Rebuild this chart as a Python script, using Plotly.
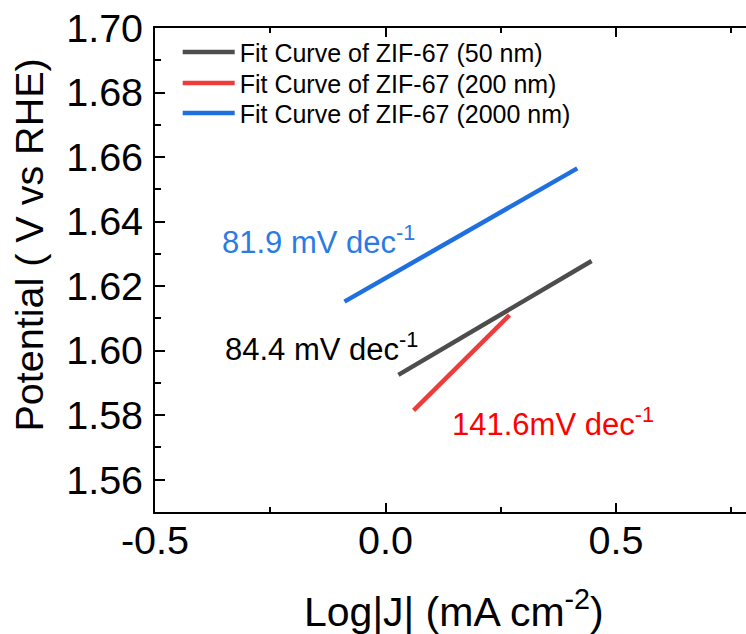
import plotly.graph_objects as go

# Tafel fit lines: log|J| (mA cm^-2) vs potential (V vs RHE)
names = ["Fit Curve of ZIF-67 (50 nm)", "Fit Curve of ZIF-67 (200 nm)", "Fit Curve of ZIF-67 (2000 nm)"]
x_50 = [0.028, 0.447]
y_50 = [1.5925, 1.6278]
x_200 = [0.061, 0.269]
y_200 = [1.5815, 1.6110]
x_2000 = [-0.089, 0.416]
y_2000 = [1.6152, 1.6565]

slope_labels = ["84.4 mV dec<sup>-1</sup>", "141.6mV dec<sup>-1</sup>", "81.9 mV dec<sup>-1</sup>"]
label_x = [-0.352, 0.139, -0.359]
label_y = [1.6012, 1.5780, 1.6344]

x_tickvals = [-0.5, 0.0, 0.5]
x_ticktext = ["-0.5", "0.0", "0.5"]

line_colors = ["#4d4d4d", "#ee3c3c", "#1e6fe0"]
label_colors = ["#000000", "#ff0000", "#2a7be4"]

FONT = "Liberation Sans, Arial, sans-serif"

fig = go.Figure()
series = [(x_50, y_50), (x_200, y_200), (x_2000, y_2000)]
legend_ids = ["legend", "legend2", "legend3"]
for (xs, ys), name, col, lg in zip(series, names, line_colors, legend_ids):
    fig.add_trace(go.Scatter(x=xs, y=ys, mode="lines", name=name, showlegend=True,
                             line=dict(color=col, width=4.5), legend=lg))

for txt, xa, ya, col in zip(slope_labels, label_x, label_y, label_colors):
    fig.add_annotation(x=xa, y=ya, xref="x", yref="y", text=txt, showarrow=False,
                       xanchor="left", yanchor="middle",
                       font=dict(family=FONT, size=31, color=col))

# axis titles
fig.add_annotation(x=0.506, y=-0.2004, xref="paper", yref="paper",
                   text="Log|J| (mA cm<sup>-2</sup>)", showarrow=False,
                   xanchor="center", yanchor="middle",
                   font=dict(family=FONT, size=41, color="#000000"))
fig.add_annotation(x=-0.2132, y=0.5527, xref="paper", yref="paper",
                   text="Potential ( V vs RHE)", showarrow=False, textangle=-90,
                   xanchor="center", yanchor="middle",
                   font=dict(family=FONT, size=39.5, color="#000000"))

legend_rows = [0.9498, 0.8857, 0.8238]
legend_style = dict(x=0.0384, xanchor="left", yanchor="middle", bgcolor="rgba(0,0,0,0)",
                    font=dict(family=FONT, size=25, color="#000000"), itemwidth=52)

fig.update_layout(
    width=746, height=634,
    margin=dict(l=155, r=0, t=28, b=122),
    paper_bgcolor="white", plot_bgcolor="white",
    font=dict(family=FONT, color="#000000"),
    showlegend=True,
    legend=dict(y=legend_rows[0], **legend_style),
    legend2=dict(y=legend_rows[1], **legend_style),
    legend3=dict(y=legend_rows[2], **legend_style),
    xaxis=dict(
        range=[-0.5, 0.782], tickvals=x_tickvals, ticktext=x_ticktext,
        showgrid=False, zeroline=False,
        showline=True, linecolor="#000000", linewidth=2, mirror="allticks",
        ticks="inside", ticklen=9, tickwidth=1.5, tickcolor="#000000",
        minor=dict(dtick=0.25, tick0=0, ticks="inside", ticklen=5, tickwidth=1.5, tickcolor="#000000"),
        tickfont=dict(family=FONT, size=39.5), ticklabelstandoff=-7,
    ),
    yaxis=dict(
        range=[1.55, 1.70], dtick=0.02, tick0=1.56, tickformat=".2f",
        showgrid=False, zeroline=False,
        showline=True, linecolor="#000000", linewidth=2,
        ticks="inside", ticklen=10, tickwidth=1.5, tickcolor="#000000",
        minor=dict(dtick=0.01, ticks="inside", ticklen=6, tickwidth=1.5, tickcolor="#000000"),
        tickfont=dict(family=FONT, size=39.5), ticklabelstandoff=2,
    ),
)

fig.write_html("out.html")
